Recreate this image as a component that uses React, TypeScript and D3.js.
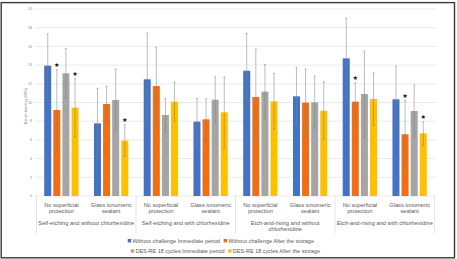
import React from "react";
import * as d3 from "d3";

// Bond strength per condition (MPa): mean and standard deviation for each series
const groupLabels: string[][] = [
  ["No superficial", "protection"],
  ["Glass ionomeric", "sealant"],
  ["No superficial", "protection"],
  ["Glass ionomeric", "sealant"],
  ["No superficial", "protection"],
  ["Glass ionomeric", "sealant"],
  ["No superficial", "protection"],
  ["Glass ionomeric", "sealant"],
];
const protocolLabels: string[][] = [
  ["Self-etching and without chlorhexidine"],
  ["Self-etching and with chlorhexidine"],
  ["Etch-and-rising and without", "chlorhexidine"],
  ["Etch-and-rising and with chlorhexidine"],
];
const seriesNames = [
  "Without challenge Immediate period",
  "Without challenge After the storage",
  "DES-RE 18 cycles Immediate period",
  "DES-RE 18 cycles After the storage",
];
const seriesColors = ["#4472C4", "#F26E12", "#A5A5A5", "#FFC000"];

const withoutImmediate = [13.94, 7.77, 12.48, 7.95, 13.4, 10.66, 14.72, 10.34];
const withoutImmediateSd = [3.4, 3.75, 4.95, 2.5, 4.0, 3.1, 4.3, 3.55];
const withoutStorage = [9.2, 9.84, 11.76, 8.2, 10.59, 9.98, 10.09, 6.6];
const withoutStorageSd = [4.3, 1.9, 4.15, 2.2, 5.1, 3.6, 2.0, 3.6];
const desImmediate = [13.12, 10.27, 8.66, 10.3, 11.16, 10.02, 10.9, 9.09];
const desImmediateSd = [2.65, 3.3, 1.8, 2.45, 2.9, 2.8, 4.6, 2.8];
const desStorage = [9.44, 5.91, 10.09, 8.95, 10.12, 9.12, 10.37, 6.7];
const desStorageSd = [3.1, 1.7, 2.1, 3.8, 3.0, 3.1, 2.8, 1.25];

// [group index, series index] pairs flagged as significant
const significant: [number, number][] = [
  [0, 1], [0, 3], [1, 3], [6, 1], [7, 1], [7, 3],
];

const yTicks = [0, 2, 4, 6, 8, 10, 12, 14, 16, 18, 20];

const means = [withoutImmediate, withoutStorage, desImmediate, desStorage];
const sds = [withoutImmediateSd, withoutStorageSd, desImmediateSd, desStorageSd];

const W = 457;
const H = 259;
const plotLeft = 36.5;
const plotRight = 434.5;
const plotTop = 9;
const plotBottom = 196;
const fontStack = "'Liberation Sans', Arial, sans-serif";
const textColor = "#595959";
const labelSize = 5.7;
const legendSize = 5.5;

let measureCtx: CanvasRenderingContext2D | null = null;
function textWidth(s: string, size: number): number {
  if (!measureCtx && typeof document !== "undefined") {
    measureCtx = document.createElement("canvas").getContext("2d");
  }
  if (!measureCtx) return s.length * size * 0.5;
  measureCtx.font = `${size}px ${fontStack}`;
  return measureCtx.measureText(s).width;
}

export default function App() {
  const y = d3.scaleLinear().domain([0, 20]).range([plotBottom, plotTop]);
  const x0 = d3
    .scaleBand<number>()
    .domain(d3.range(groupLabels.length))
    .range([plotLeft, plotRight])
    .paddingInner(0.31)
    .paddingOuter(0.155);
  const x1 = d3
    .scaleBand<number>()
    .domain(d3.range(seriesNames.length))
    .range([0, x0.bandwidth()])
    .paddingInner(0.23);
  const step = x0.step();
  const groupCenter = (g: number) => (x0(g) as number) + x0.bandwidth() / 2;

  // legend: two rows of two entries, each row centred on the chart
  const swatch = 3.4;
  const swatchGap = 1.3;
  const entryGap = 3.5;
  const legendRows = [
    { y: 240.7, series: [0, 1], center: 221 },
    { y: 251, series: [2, 3], center: 225.5 },
  ].map((row) => {
    const widths = row.series.map((s) => swatch + swatchGap + textWidth(seriesNames[s], legendSize));
    const total = d3.sum(widths) + entryGap * (widths.length - 1);
    let cursor = row.center - total / 2;
    const items = row.series.map((s, i) => {
      const item = { s, x: cursor };
      cursor += widths[i] + entryGap;
      return item;
    });
    return { y: row.y, items };
  });

  return (
    <svg
      width={W}
      height={H}
      style={{ position: "absolute", left: 0, top: 0, background: "#fff" }}
      fontFamily={fontStack}
    >
      <rect x={0} y={0} width={W} height={H} fill="#fff" />
      <rect
        x={1.2}
        y={2.6}
        width={453.3}
        height={255.2}
        fill="none"
        stroke="#3a3a3a"
        strokeWidth={1.4}
      />

      {/* gridlines and y tick labels */}
      {yTicks.map((t) => (
        <g key={t}>
          <line
            x1={plotLeft - 1.5}
            x2={plotRight + 2}
            y1={y(t)}
            y2={y(t)}
            stroke="#e3e3e3"
            strokeWidth={0.7}
          />
          <text
            x={32}
            y={y(t)}
            dy="0.35em"
            textAnchor="end"
            fontSize={3.6}
            fill="#8a8a8a"
          >
            {t}
          </text>
        </g>
      ))}

      <text
        transform={`translate(26.5,106) rotate(-90)`}
        textAnchor="middle"
        fontSize={3.8}
        fill="#7a7a7a"
      >
        Dentin bonding [MPa]
      </text>

      {/* bars */}
      {means.map((vals, s) =>
        vals.map((v, g) => (
          <rect
            key={`b${s}-${g}`}
            x={(x0(g) as number) + (x1(s) as number)}
            y={y(v)}
            width={x1.bandwidth()}
            height={y(0) - y(v)}
            fill={seriesColors[s]}
          />
        ))
      )}

      {/* error bars */}
      {means.map((vals, s) =>
        vals.map((v, g) => {
          const cx = (x0(g) as number) + (x1(s) as number) + x1.bandwidth() / 2;
          const hi = y(v + sds[s][g]);
          const lo = y(Math.max(0, v - sds[s][g]));
          return (
            <g key={`e${s}-${g}`} stroke="#808080" strokeWidth={0.7} strokeOpacity={0.75}>
              <line x1={cx} x2={cx} y1={hi} y2={lo} />
              <line x1={cx - 1} x2={cx + 1} y1={hi} y2={hi} />
              <line x1={cx - 1} x2={cx + 1} y1={lo} y2={lo} />
            </g>
          );
        })
      )}

      {/* significance markers */}
      {significant.map(([g, s]) => {
        const cx = (x0(g) as number) + (x1(s) as number) + x1.bandwidth() / 2;
        const top = y(means[s][g] + sds[s][g]);
        return (
          <text
            key={`m${g}-${s}`}
            x={cx}
            y={top - 2.6}
            textAnchor="middle"
            fontSize={6.2}
            fill="#111"
            fontFamily="'DejaVu Sans', sans-serif"
          >
            ★
          </text>
        );
      })}

      {/* multi-level category axis */}
      {d3.range(protocolLabels.length + 1).map((i) => (
        <line
          key={`sep${i}`}
          x1={plotLeft + i * 2 * step}
          x2={plotLeft + i * 2 * step}
          y1={plotBottom}
          y2={233.5}
          stroke="#dadada"
          strokeWidth={0.7}
        />
      ))}
      {groupLabels.map((lines, g) => (
        <text
          key={`gl${g}`}
          x={groupCenter(g)}
          y={206.8}
          textAnchor="middle"
          fontSize={labelSize}
          fill={textColor}
        >
          {lines.map((l, i) => (
            <tspan key={i} x={groupCenter(g)} dy={i === 0 ? 0 : 6.6}>
              {l}
            </tspan>
          ))}
        </text>
      ))}
      {protocolLabels.map((lines, p) => {
        const cx = plotLeft + (p * 2 + 1) * step;
        return (
          <text
            key={`pl${p}`}
            x={cx}
            y={224.8}
            textAnchor="middle"
            fontSize={labelSize}
            fill={textColor}
          >
            {lines.map((l, i) => (
              <tspan key={i} x={cx} dy={i === 0 ? 0 : 6.6}>
                {l}
              </tspan>
            ))}
          </text>
        );
      })}

      {/* legend */}
      {legendRows.map((row, r) =>
        row.items.map((it) => (
          <g key={`lg${r}-${it.s}`}>
            <rect
              x={it.x}
              y={row.y - swatch / 2}
              width={swatch}
              height={swatch}
              fill={seriesColors[it.s]}
            />
            <text
              x={it.x + swatch + swatchGap}
              y={row.y}
              dy="0.35em"
              fontSize={legendSize}
              fill={textColor}
            >
              {seriesNames[it.s]}
            </text>
          </g>
        ))
      )}
    </svg>
  );
}
